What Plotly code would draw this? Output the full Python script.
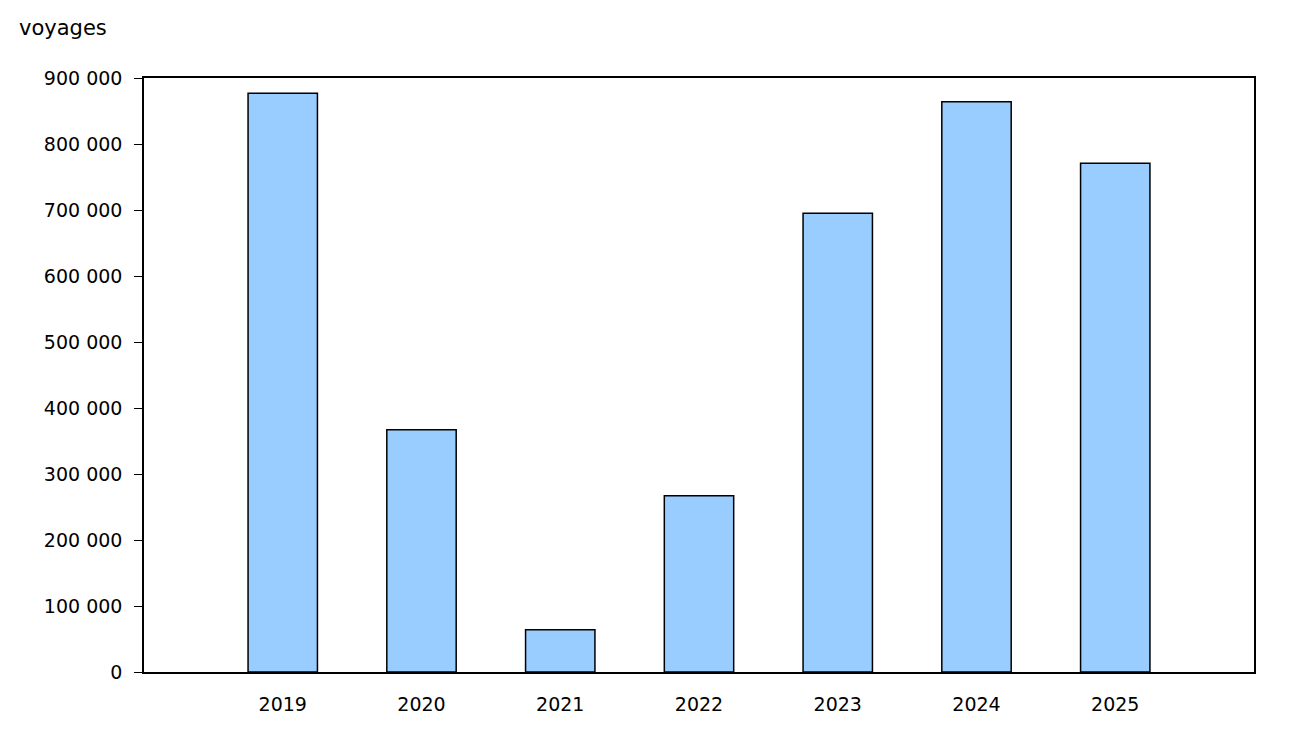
import plotly.graph_objects as go

years = [2019, 2020, 2021, 2022, 2023, 2024, 2025]
values = [877000, 367000, 64000, 267000, 695000, 864000, 771000]
yticks = [0, 100000, 200000, 300000, 400000, 500000, 600000, 700000, 800000, 900000]
ytick_labels = ["0", "100 000", "200 000", "300 000", "400 000", "500 000",
                "600 000", "700 000", "800 000", "900 000"]

fig = go.Figure(go.Bar(x=years, y=values, width=0.5,
                       marker=dict(color="#99ccff", line=dict(color="black", width=1.5))))
font = dict(family="DejaVu Sans, Verdana", size=19, color="black")
fig.update_layout(
    width=1291, height=732, plot_bgcolor="white", paper_bgcolor="white",
    margin=dict(l=136, r=45, t=70, b=68), font=font, showlegend=False,
    xaxis=dict(range=[2018, 2026], tickvals=years, ticktext=[str(y) for y in years],
               showline=True, linecolor="black", linewidth=1.5, mirror=True,
               ticks="outside", ticklen=14, tickcolor="rgba(0,0,0,0)", showgrid=False,
               tickfont=font),
    yaxis=dict(range=[0, 900000], tickvals=yticks, ticktext=ytick_labels,
               showline=True, linecolor="black", linewidth=1.5, mirror=True,
               ticks="outside", ticklen=8, tickcolor="black", showgrid=False, zeroline=False,
               tickfont=font, ticklabelstandoff=8),
    annotations=[dict(text="voyages", xref="paper", yref="paper", x=-0.114, y=1.085,
                      xanchor="left", yanchor="middle", showarrow=False,
                      font=dict(family="DejaVu Sans, Verdana", size=21, color="black"))],
)
fig.write_html("out.html")
